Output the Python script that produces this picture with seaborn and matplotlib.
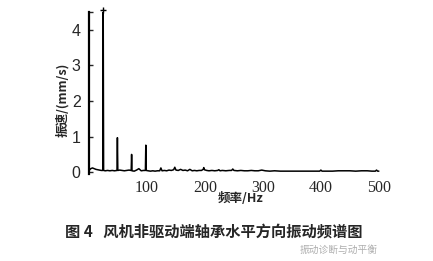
import matplotlib
matplotlib.use("Agg")
import matplotlib.pyplot as plt
import seaborn as sns
import pandas as pd

freq = [0, 3, 6, 9, 12, 15, 18, 21, 23.8, 24.5, 25.2, 28, 32, 36, 40, 44, 48.3, 49, 49.7,
        53, 57, 61, 65, 69, 72.8, 73.5, 74.2, 78, 82, 86, 90, 94, 97.3, 98, 98.7, 102, 106,
        110, 114, 118, 122, 124, 126, 130, 134, 138, 142, 146, 148, 150, 154, 158, 162, 166,
        170, 174, 178, 182, 186, 190, 194, 197, 198, 199, 203, 207, 212, 217, 222, 224, 226,
        230, 236, 242, 246, 248, 250, 256, 262, 268, 274, 280, 286, 292, 298, 304, 312, 320,
        330, 340, 350, 360, 370, 380, 390, 398, 400, 402, 410, 420, 430, 440, 450, 460, 470,
        480, 488, 494, 496, 498, 500]
amp = [0.05, 0.10, 0.12, 0.10, 0.08, 0.07, 0.06, 0.05, 0.05, 4.55, 0.05, 0.04, 0.05, 0.04,
       0.05, 0.04, 0.05, 0.97, 0.05, 0.06, 0.05, 0.04, 0.05, 0.06, 0.05, 0.50, 0.04, 0.03,
       0.06, 0.10, 0.04, 0.05, 0.05, 0.76, 0.05, 0.04, 0.03, 0.04, 0.03, 0.04, 0.04, 0.12,
       0.04, 0.05, 0.04, 0.06, 0.05, 0.07, 0.14, 0.06, 0.05, 0.08, 0.05, 0.06, 0.04, 0.08,
       0.04, 0.05, 0.04, 0.05, 0.05, 0.08, 0.13, 0.07, 0.05, 0.04, 0.05, 0.04, 0.05, 0.07,
       0.04, 0.05, 0.04, 0.05, 0.05, 0.09, 0.05, 0.04, 0.05, 0.04, 0.04, 0.05, 0.04, 0.04,
       0.06, 0.04, 0.03, 0.04, 0.03, 0.03, 0.03, 0.03, 0.03, 0.03, 0.03, 0.03, 0.06, 0.03,
       0.03, 0.03, 0.04, 0.04, 0.04, 0.03, 0.04, 0.04, 0.03, 0.03, 0.06, 0.03, 0.03]

x_ticks = [100, 200, 300, 400, 500]
y_ticks = [0, 1, 2, 3, 4]
x_label = "频率/Hz"
y_label = "振速/(mm/s)"
caption = "图 4   风机非驱动端轴承水平方向振动频谱图"
watermark = "振动诊断与动平衡"

sns.set_style("white")
plt.rcParams['font.family'] = ['Noto Sans CJK SC', 'DejaVu Sans']
cjk = ["Noto Sans CJK SC", "DejaVu Sans"]

df = pd.DataFrame({"freq": freq, "amp": amp})

fig = plt.figure(figsize=(4.33, 2.61), dpi=100)
ax = fig.add_axes([89 / 433, 1 - 174 / 261, (380 - 89) / 433, (174 - 12) / 261])

sns.lineplot(data=df, x="freq", y="amp", ax=ax, color="black", linewidth=1.1,
             estimator=None, sort=True)
top_i = amp.index(max(amp))
ax.plot([freq[top_i]], [amp[top_i]], marker="+", color="black", markersize=5,
        clip_on=False)

ax.set_xlim(0, 502)
ax.set_ylim(-0.05, 4.5)
ax.set_xticks(x_ticks)
ax.set_yticks(y_ticks)
ax.set_yticks([4.5], minor=True)
ax.set_xticklabels([str(v) for v in x_ticks], family="Liberation Serif", fontsize=11.5)
ax.set_yticklabels([str(v) for v in y_ticks], family="Liberation Sans", fontsize=11.5)
ax.tick_params(axis="y", which="both", direction="in", length=3, width=1, left=True, pad=6)
ax.tick_params(axis="x", direction="in", length=0, pad=4, bottom=True)

for s in ["top", "right", "bottom"]:
    ax.spines[s].set_visible(False)
ax.spines["left"].set_linewidth(1.6)
ax.spines["left"].set_color("black")

ax.set_xlabel("")
ax.set_ylabel("")
fig.text(0.555, 1 - 199 / 261, x_label, ha="center", va="center", fontsize=9,
         fontweight="bold", family=cjk)
fig.text(62 / 433, 1 - 100 / 261, y_label, ha="center", va="center", rotation=90,
         fontsize=9, fontweight="bold", family=cjk)
fig.text(65 / 433, 1 - 232 / 261, caption, ha="left", va="center", fontsize=11,
         fontweight="bold", family=cjk)
fig.text(300 / 433, 1 - 250 / 261, watermark, ha="left", va="center", fontsize=7,
         color="#999999", alpha=0.8, family=cjk)

fig.savefig("out.png", dpi=100, facecolor="white")
